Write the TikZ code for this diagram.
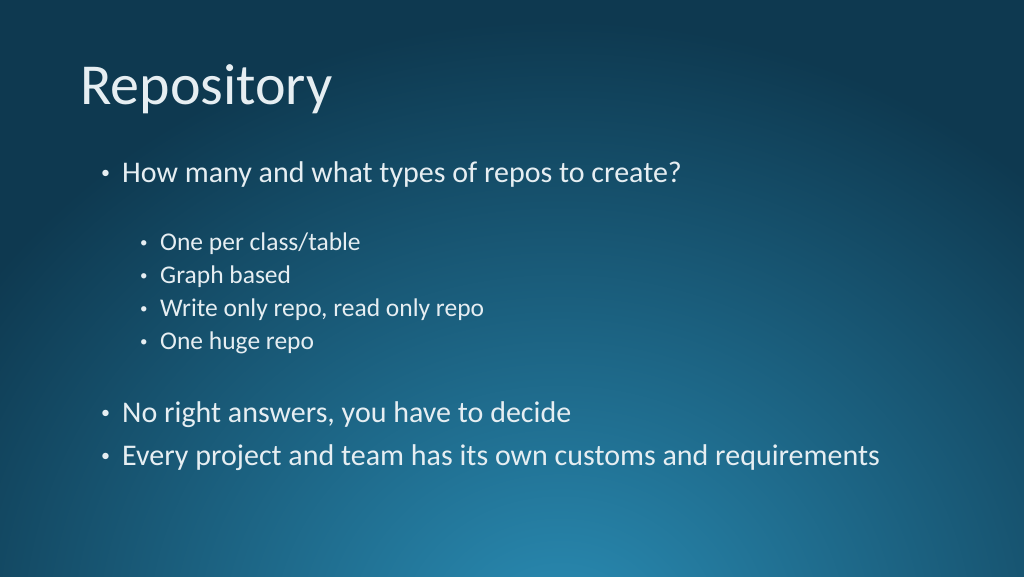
\documentclass[tikz,border=0pt]{standalone}
\usepackage{fontspec}
\setmainfont{Carlito}
\definecolor{bgdark}{HTML}{0E3950}
\definecolor{bglight}{HTML}{2A8DB5}
\definecolor{txt}{HTML}{E6EEF2}
\tikzset{
  title/.style={anchor=base west, text=txt, font=\fontsize{58}{62}\selectfont, inner sep=0},
  lvlone/.style={anchor=base west, text=txt, font=\fontsize{30}{34}\selectfont, inner sep=0},
  lvltwo/.style={anchor=base west, text=txt, font=\fontsize{25.5}{29}\selectfont, inner sep=0},
  bulone/.style={anchor=base west, text=txt, font=\fontsize{18}{20}\selectfont, inner sep=0},
  bultwo/.style={anchor=base west, text=txt, font=\fontsize{15}{18}\selectfont, inner sep=0},
}
\begin{document}
\begin{tikzpicture}[x=1pt,y=-1pt]
\useasboundingbox (0,0) rectangle (1024,576);
\fill[bgdark] (0,0) rectangle (1024,576);
\begin{scope}
\clip (0,0) rectangle (1024,576);
\shade[inner color=bglight, outer color=bgdark] (560,640) ellipse (700 and 620);
\end{scope}
\node[title] (t) at (80,104) {Repository};
\node[bulone] (b1d) at (101,178) {•};
\node[lvlone] (b1) at (122,182) {How many and what types of repos to create?};
\node[bultwo] (s1d) at (140,247) {•};
\node[lvltwo] (s1) at (160,250) {One per class/table};
\node[bultwo] (s2d) at (140,280) {•};
\node[lvltwo] (s2) at (160,283) {Graph based};
\node[bultwo] (s3d) at (140,313) {•};
\node[lvltwo] (s3) at (160,316) {Write only repo, read only repo};
\node[bultwo] (s4d) at (140,346) {•};
\node[lvltwo] (s4) at (160,349) {One huge repo};
\node[bulone] (b2d) at (101,418) {•};
\node[lvlone] (b2) at (122,422) {No right answers, you have to decide};
\node[bulone] (b3d) at (101,461) {•};
\node[lvlone] (b3) at (122,465) {Every project and team has its own customs and requirements};
\end{tikzpicture}
\end{document}
